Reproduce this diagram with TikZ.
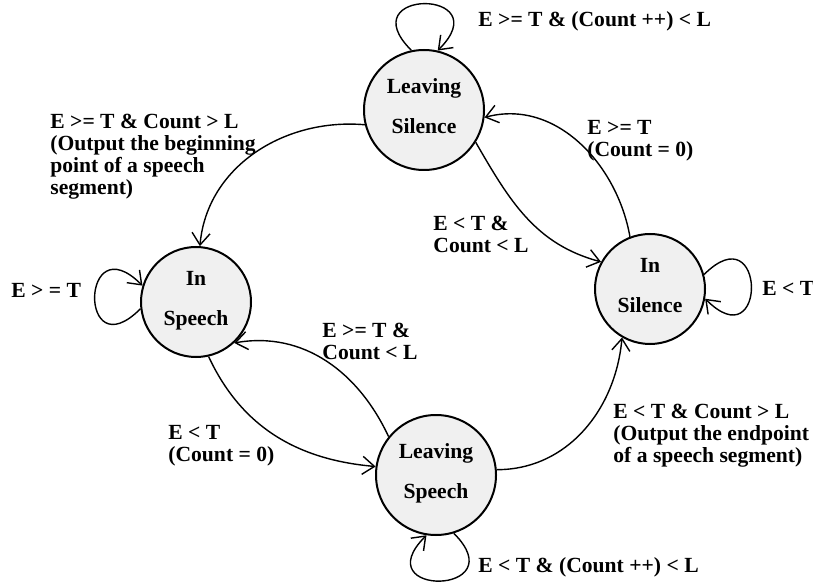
\documentclass[tikz,border=0pt]{standalone}
\usepackage{fontspec}
\setmainfont{Liberation Serif}
\usetikzlibrary{arrows.meta}
\tikzstyle{state} = [circle, draw, line width=1pt, fill=black!6, text depth=4pt,
	align=center, inner sep=0pt, font=\bfseries\fontsize{10.8}{20}\selectfont]
\tikzstyle{line} = [draw, line width=0.7pt, -{Straight Barb[length=6pt,width=9pt]}]
\tikzstyle{selfloop} = [line, distance=44pt]
\tikzstyle{cond} = [align=left, inner sep=0pt, font=\bfseries\fontsize{10.8}{11}\selectfont]

\begin{document}
\begin{tikzpicture}[x=0.5pt, y=-0.5pt]
	\useasboundingbox (0,0) rectangle (813,587);
	% Place nodes
	\node [state, minimum size=60pt] (lsil) at (424,110) {Leaving\\Silence};
	\node [state, minimum size=55pt] (insp) at (196,302) {In\\Speech};
	\node [state, minimum size=55pt] (insil) at (650,289) {In\\Silence};
	\node [state, minimum size=60pt] (lsp) at (436,475) {Leaving\\Speech};
	% Draw edges
	\path [line] (lsil.194) to[out=175,in=85] (insp.86);
	\path [line] (lsil.-32) to[out=-60,in=165] (insil.151);
	\path [line] (insil.111) to[out=100,in=15] (lsil.-7);
	\path [line] (insp.-77) to[out=-65,in=175] (lsp.172);
	\path [line] (lsp.141) to[out=115,in=10] (insp.-47);
	\path [line] (lsp.5) to[out=0,in=-95] (insil.240);
	% Self loops
	\path [selfloop] (lsil.102) to[out=135,in=45] (lsil.77);
	\path [selfloop] (insp.187) to[out=225,in=135] (insp.163);
	\path [selfloop] (insil.15) to[out=45,in=-45] (insil.-10);
	\path [selfloop] (lsp.-73) to[out=-45,in=-135] (lsp.-99);
	% Conditions
	\node [cond, anchor=west] (c-lsil) at (478,21) {E >= T \& (Count ++) < L};
	\node [cond, anchor=north west] (c-lsil-insp) at (50,114)
		{E >= T \& Count > L\\(Output the beginning\\point of a speech\\segment)};
	\node [cond, anchor=north west] (c-insil-lsil) at (587,120) {E >= T\\(Count = 0)};
	\node [cond, anchor=north west] (c-lsil-insil) at (433,216) {E < T \&\\Count < L};
	\node [cond, anchor=west] (c-insp) at (11,290) {E > = T};
	\node [cond, anchor=west] (c-insil) at (762,288) {E < T};
	\node [cond, anchor=north west] (c-lsp-insp) at (322,323) {E >= T \&\\Count < L};
	\node [cond, anchor=north west] (c-insp-lsp) at (168,425) {E < T\\(Count = 0)};
	\node [cond, anchor=north west] (c-lsp-insil) at (613,404)
		{E < T \& Count > L\\(Output the endpoint\\of a speech segment)};
	\node [cond, anchor=west] (c-lsp) at (478,567) {E < T \& (Count ++) < L};
\end{tikzpicture}
\end{document}
